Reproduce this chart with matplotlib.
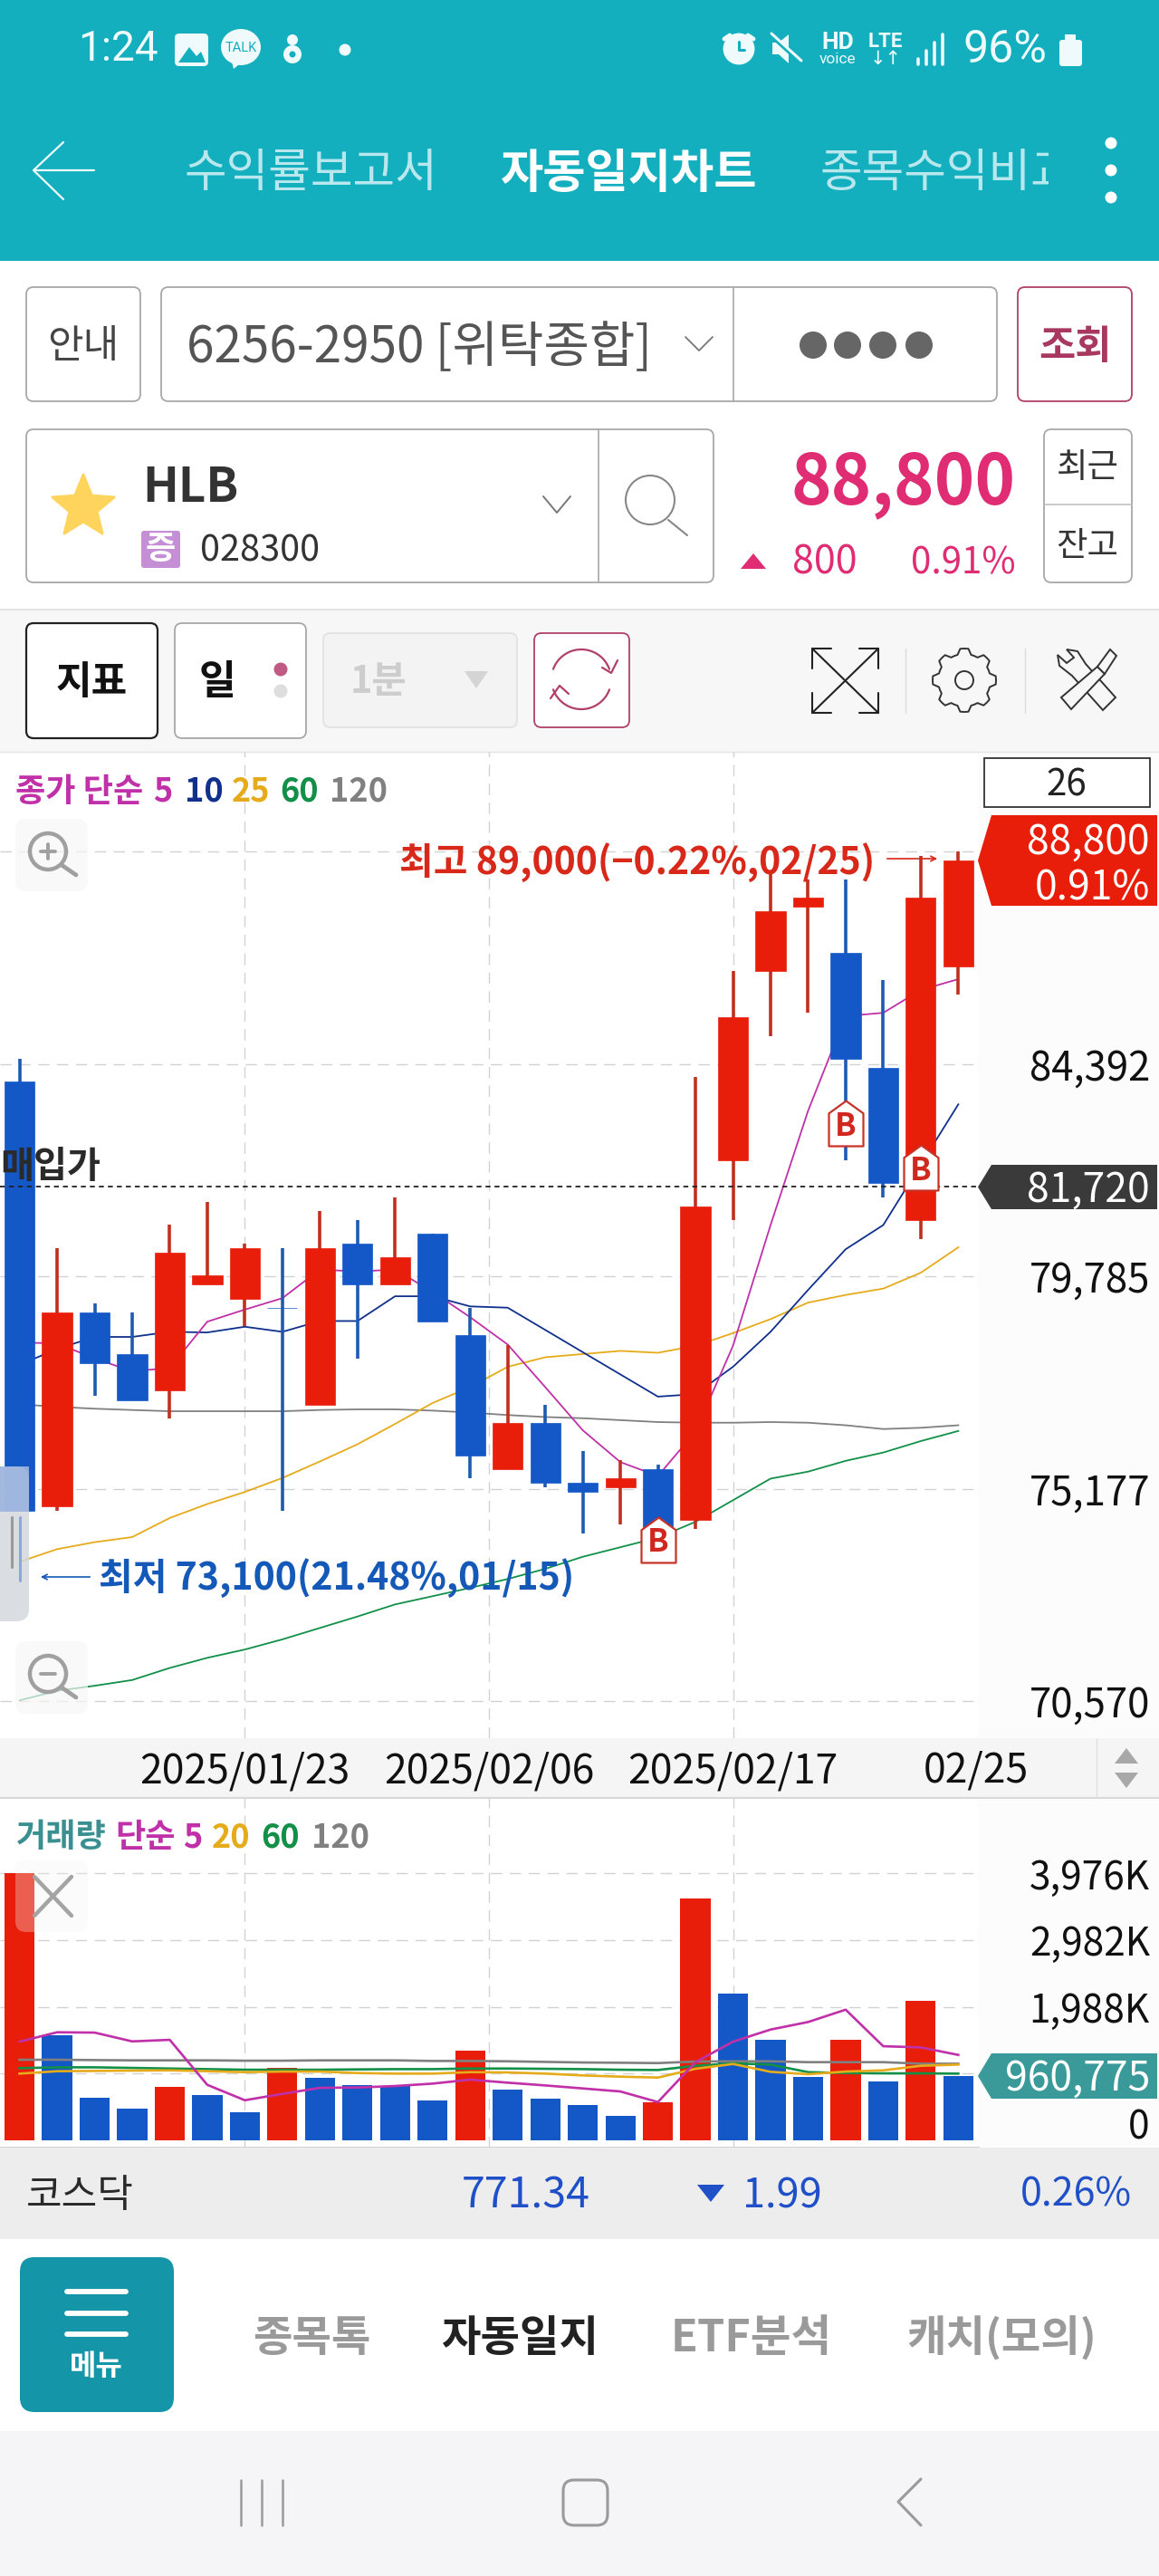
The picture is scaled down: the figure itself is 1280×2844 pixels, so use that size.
import matplotlib
matplotlib.use("Agg")
import numpy as np
from matplotlib import pyplot as plt
from matplotlib.patches import Rectangle, FancyBboxPatch, Polygon, Circle, Ellipse
from matplotlib.path import Path

plt.rcParams['font.family'] = ['Noto Sans CJK KR', 'DejaVu Sans']

W, H = 1280, 2844

# candles, oldest first
opens = [84000, 74800, 79000, 78100, 77300, 79600, 79300, 79100, 77000, 80500, 79600, 80700, 78500,
         75600, 76600, 75300, 75200, 75600, 74500, 82300, 86400, 87800, 86800, 84300, 81000, 86500]
closes = [74700, 79000, 77900, 77100, 80300, 79800, 80400, 79100, 80400, 79600, 80200, 78800, 75900,
          76600, 75300, 75100, 75400, 74300, 81300, 85400, 87700, 88000, 84500, 81800, 88000, 88800]
highs = [84500, 80400, 79200, 79000, 80900, 81400, 80500, 80400, 81200, 81000, 81500, 80700, 79100,
         78300, 77000, 76000, 75800, 75700, 84100, 86400, 88500, 88400, 88400, 86200, 88900, 89000]
lows = [74700, 74700, 77200, 77100, 76700, 79600, 78700, 74700, 77000, 78000, 79600, 78800, 75400,
        75600, 75200, 74200, 74400, 74300, 74300, 81000, 85000, 85500, 82300, 81500, 80600, 85900]

ma5 = [78344, 78330, 78000, 77724, 77793, 78799, 79061, 79309, 79929, 79888, 79929, 79447, 78896,
       78303, 77379, 76442, 75753, 75450, 76414, 78275, 80894, 83375, 85429, 85498, 85994, 86229]
ma10 = [77862, 78206, 78468, 78468, 78579, 78565, 78689, 78579, 78813, 78813, 79350, 79350, 79130,
        79102, 78620, 78137, 77655, 77173, 77228, 77820, 78579, 79488, 80370, 80894, 82204, 83513]
ma25 = [73589, 73864, 74016, 74126, 74540, 74843, 75105, 75408, 75767, 76139, 76580, 77035, 77379,
        77820, 78027, 78096, 78165, 78124, 78275, 78551, 78854, 79213, 79378, 79516, 79860, 80412]
ma60 = [70584, 70791, 70901, 71025, 71287, 71507, 71687, 71907, 72155, 72403, 72665, 72844, 73024,
        73217, 73437, 73699, 73906, 74113, 74457, 74926, 75394, 75546, 75780, 75960, 76208, 76428]
ma120 = [77007, 76952, 76911, 76883, 76856, 76856, 76856, 76856, 76883, 76897, 76897, 76869, 76828,
         76773, 76731, 76704, 76663, 76621, 76607, 76607, 76621, 76607, 76552, 76470, 76497, 76552]

price_ticks = [84392, 79785, 75177, 70570]
price_grid = [89000, 84392, 79785, 75177, 70570]
avg_price = 81720
buy_idx = [17, 22, 24]
buy_price = [74071, 83100, 82135]

# volume in thousands
volume = [3976, 1567, 630, 464, 793, 666, 419, 1072, 923, 820, 811, 594, 1333,
          752, 612, 527, 365, 558, 3607, 2179, 1495, 946, 1490, 869, 2080, 959]
vol_up = [1, 0, 0, 0, 1, 0, 0, 1, 0, 0, 0, 0, 1, 0, 0, 0, 0, 1, 1, 0, 0, 0, 1, 0, 1, 0]
vma5 = [1468, 1608, 1603, 1472, 1495, 824, 594, 689, 779, 784, 806, 842, 901,
        856, 815, 770, 725, 567, 1162, 1468, 1648, 1761, 1945, 1400, 1382, 1270]
vma20 = [991, 1027, 1031, 1036, 1040, 1027, 1013, 1022, 1022, 1000, 991, 991, 1013,
         1009, 991, 964, 946, 932, 1063, 1135, 1018, 982, 1022, 1040, 1108, 1126]
vma60 = [1072, 1085, 1085, 1076, 1067, 1058, 1049, 1049, 1049, 1054, 1058, 1058, 1067,
         1067, 1063, 1058, 1049, 1045, 1108, 1144, 1126, 1013, 1000, 995, 995, 991]
vma120 = [1198, 1198, 1193, 1189, 1189, 1189, 1184, 1184, 1189, 1189, 1189, 1180, 1180,
          1175, 1166, 1157, 1153, 1148, 1171, 1175, 1175, 1162, 1162, 1162, 1139, 1139]

vol_ticks = [1988, 2982, 3976]
vol_grid = [994, 1988, 2982, 3976]
# the date grid is evenly spaced, the middle line falls between two candles
date_idx = [6, 12.5, 19]
date_labels = ['2025/01/23', '2025/02/06', '2025/02/17']

RED, BLUE = '#e81e0a', '#1458c8'
RED_W, BLUE_W = '#c0301e', '#1e5ab0'
MAGENTA, NAVY, YELLOW, GREEN, GRAY = '#c030a8', '#10308c', '#e6ab1a', '#129048', '#808080'
TEAL = '#13afbf'
ROSE = '#b0406a'
GRID = '#d2d2d2'


def px_axes(left, top, right, bottom, z):
    return fig.add_axes([left / W, 1 - bottom / H, (right - left) / W, (bottom - top) / H], zorder=z)


fig = plt.figure(figsize=(W / 100, H / 100), dpi=100, facecolor='white')

bg = px_axes(0, 0, W, H, 0)
bg.set_xlim(0, W)
bg.set_ylim(H, 0)
bg.axis('off')
ui = px_axes(0, 0, W, H, 5)
ui.set_xlim(0, W)
ui.set_ylim(H, 0)
ui.axis('off')
ui.patch.set_alpha(0)


def txt(x, y, s, size, color='#222222', ha='center', weight='normal', **kw):
    return ui.text(x, y + 4, s, fontsize=size, color=color, ha=ha, va='center', fontweight=weight, **kw)


def box(x0, y0, x1, y1, ec='#a8a8a8', fc='white', lw=1.3, r=8, ax=None, **kw):
    p = FancyBboxPatch((x0, y0), x1 - x0, y1 - y0, boxstyle=f'round,pad=0,rounding_size={r}',
                       ec=ec, fc=fc, lw=lw, **kw)
    (ax or bg).add_patch(p)
    return p


def line(xs, ys, color='#888888', lw=1.5, **kw):
    ui.plot(xs, ys, color=color, lw=lw, solid_capstyle='round', **kw)


# flat backgrounds
bg.add_patch(Rectangle((0, 0), W, 288, fc=TEAL, ec='none'))
bg.add_patch(Rectangle((0, 673), W, 157, fc='#f7f7f7', ec='none'))
bg.plot([0, W], [673, 673], color='#dedede', lw=1.2)
bg.plot([0, W], [830, 830], color='#e4e4e4', lw=1)
bg.add_patch(Rectangle((1080, 830), 200, 1090, fc='#fcfcfc', ec='none'))
bg.add_patch(Rectangle((1080, 1985), 200, 386, fc='#fcfcfc', ec='none'))
bg.add_patch(Rectangle((0, 2371), W, 101, fc='#ededed', ec='none'))
bg.add_patch(Rectangle((0, 2684), W, 160, fc='#f5f5f8', ec='none'))

# price panel
ax = px_axes(0, 830, 1082, 1919, 2)
ax.patch.set_alpha(0)
ax.set_xlim(-0.52, 25.57)
ax.set_ylim(69764, 91161)
idx = np.arange(len(opens))
for series, col in [(ma120, GRAY), (ma60, GREEN), (ma25, YELLOW), (ma10, NAVY), (ma5, MAGENTA)]:
    ax.plot(idx, series, color=col, lw=1.3, zorder=3)
for i in idx:
    up = closes[i] > opens[i]
    ax.vlines(i, lows[i], highs[i], color=RED_W if up else BLUE_W, lw=2.6, zorder=4)
    ax.bar(i, closes[i] - opens[i], bottom=opens[i], width=0.8, color=RED if up else BLUE,
           ec=RED if up else BLUE, lw=0.5, zorder=5)
ax.set_yticks(price_grid)
ax.set_yticklabels([''] + [f'{v:,}' for v in price_ticks], ha='right', fontsize=31.5, color='#111111',
                   fontweight='medium')
ax.yaxis.tick_right()
ax.set_xticks(date_idx)
ax.set_xticklabels(date_labels, fontsize=32, color='#111111', fontweight='medium')
ax.tick_params(axis='y', length=0, pad=(1270 - 1082) * 0.72)
ax.tick_params(axis='x', length=0, pad=10)
ax.grid(axis='y', color=GRID, lw=1, linestyle=(0, (9, 6)), zorder=1)
for i in date_idx:
    ax.axvline(i, color=GRID, lw=1, linestyle=(0, (9, 6)), zorder=1)
for s in ax.spines.values():
    s.set_visible(False)
ax.axhline(avg_price, color='#222222', lw=1.3, linestyle=(0, (3, 2.5)), zorder=6)

# house shaped buy markers
house = Path(np.array([(-0.76, -1), (0.76, -1), (0.76, 0.45), (0, 1), (-0.76, 0.45), (-0.76, -1)]), closed=True)
ax.plot(buy_idx, buy_price, linestyle='none', marker=house, markersize=36, mfc='white', mec='#c83228',
        mew=1.6, zorder=7)
for i, p in zip(buy_idx, buy_price):
    ax.text(i, p - 60, 'B', fontsize=25, color='#d0281e', ha='center', va='center', fontweight='bold', zorder=8)

# volume panel
vx = px_axes(0, 1985, 1082, 2371, 2)
vx.patch.set_alpha(0)
vx.set_xlim(-0.52, 25.57)
vx.set_ylim(-112, 5103)
vx.bar(idx, volume, width=0.8, color=[RED if u else BLUE for u in vol_up], zorder=3)
for series, col in [(vma120, GRAY), (vma60, GREEN), (vma20, YELLOW), (vma5, MAGENTA)]:
    vx.plot(idx, series, color=col, lw=1.9, zorder=4)
vx.set_yticks(vol_grid)
vx.set_yticklabels([''] + [f'{v:,}K' for v in vol_ticks], ha='right', fontsize=30.5, color='#111111',
                   fontweight='medium')
vx.yaxis.tick_right()
vx.tick_params(axis='y', length=0, pad=(1270 - 1082) * 0.72)
vx.set_xticks([])
vx.grid(axis='y', color=GRID, lw=1, linestyle=(0, (9, 6)), zorder=1)
for i in date_idx:
    vx.axvline(i, color=GRID, lw=1, linestyle=(0, (9, 6)), zorder=1)
for s in vx.spines.values():
    s.set_visible(False)
vx.axhline(-112, color='#cccccc', lw=2)
txt(1270, 2345, '0', 30.5, '#111111', ha='right', weight='medium')

# date band
bg.add_patch(Rectangle((0, 1919), W, 66, fc='#f5f5f5', ec='none', zorder=1))
bg.plot([0, W], [1985, 1985], color='#d8d8d8', lw=1.5, zorder=2)
bg.plot([1211, 1211], [1920, 1984], color='#e0e0e0', lw=1, zorder=2)
txt(1078, 1950, '02/25', 32, '#111111', weight='medium')
ui.add_patch(Polygon([(1244, 1930), (1231, 1947), (1257, 1947)], fc='#a8a8a8', ec='none'))
ui.add_patch(Polygon([(1244, 1974), (1231, 1957), (1257, 1957)], fc='#a8a8a8', ec='none'))

# chart legends
for x, s, c in [(17, '종가 단순', MAGENTA), (169, '5', MAGENTA), (204, '10', NAVY), (256, '25', YELLOW),
                (309, '60', GREEN), (364, '120', GRAY)]:
    txt(x, 870, s, 26, c, ha='left', weight='bold')
for x, s, c in [(18, '거래량', '#3a9090'), (127, '단순', MAGENTA), (202, '5', MAGENTA), (234, '20', YELLOW),
                (288, '60', GREEN), (344, '120', GRAY)]:
    txt(x, 2025, s, 26, c, ha='left', weight='bold')

# annotations on the chart
txt(441, 948, '최고 89,000(−0.22%,02/25)', 29.5, '#d8281a', ha='left', weight='bold')
ui.annotate('', xy=(1038, 948), xytext=(977, 948), arrowprops=dict(arrowstyle='->', color='#d8281a', lw=1.2))
txt(109, 1738, '최저 73,100(21.48%,01/15)', 29.5, '#1458b8', ha='left', weight='bold')
ui.annotate('', xy=(42, 1741), xytext=(102, 1741), arrowprops=dict(arrowstyle='->', color='#1458b8', lw=1.2))
txt(0, 1284, '매입가', 29, '#2a2a2a', ha='left', weight='bold')

# side tags
for y0, y1, c in [(900, 1000, RED), (1286, 1335, '#3a3a3a'), (2267, 2317, '#3a9a9a')]:
    mid = (y0 + y1) / 2
    ui.add_patch(Polygon([(1080, mid), (1095, y0), (1278, y0), (1278, y1), (1095, y1)], fc=c, ec='none'))
txt(1270, 926, '88,800', 32, 'white', ha='right', weight='medium')
txt(1270, 976, '0.91%', 32, 'white', ha='right', weight='medium')
txt(1270, 1310, '81,720', 32, 'white', ha='right', weight='medium')
txt(1270, 2291, '960,775', 32, 'white', ha='right', weight='medium')
ui.add_patch(Rectangle((1087, 837), 183, 54, fc='white', ec='#333333', lw=1.3))
txt(1178, 863, '26', 29, '#222222', weight='medium')

# zoom buttons and slider
for y0, sign in [(904, '+'), (1812, '-')]:
    box(17, y0, 97, y0 + 80, ec='none', fc='#f7f7f7', r=12, ax=ui, alpha=0.7)
    cy = y0 + 38
    ui.add_patch(Circle((53, cy - 2), 20, fc='none', ec='#a0a0a0', lw=3.2))
    line([68, 84], [cy + 13, cy + 24], '#a0a0a0', 3.4)
    line([45, 61], [cy - 2, cy - 2], '#a0a0a0', 2.8)
    if sign == '+':
        line([53, 53], [cy - 10, cy + 6], '#a0a0a0', 2.8)
box(-20, 1619, 32, 1790, ec='none', fc='#d4d7dd', r=14, ax=ui, alpha=0.85)
ui.add_patch(Rectangle((0, 1619), 32, 50, fc='#9db6e0', ec='none', alpha=0.9))
line([13, 13], [1675, 1730], '#9a9a9a', 2.2)
line([22, 22], [1675, 1745], '#8fa6d8', 2.2)
box(17, 2053, 97, 2133, ec='none', fc='#f3f3f3', r=12, ax=ui, alpha=0.3)
line([38, 79], [2072, 2115], '#a4a4a4', 3.2)
line([79, 38], [2072, 2115], '#a4a4a4', 3.2)

# status bar
STATUS = '#eefafb'
txt(86, 50, '1:24', 33, STATUS, ha='left', family='Roboto')
box(193, 37, 230, 73, ec='none', fc=STATUS, r=5, ax=ui)
ui.add_patch(Polygon([(197, 69), (209, 52), (217, 62), (222, 57), (227, 69)], fc=TEAL, ec='none'))
ui.add_patch(Ellipse((266, 52), 44, 40, fc=STATUS, ec='none'))
ui.add_patch(Polygon([(256, 68), (268, 68), (258, 76)], fc=STATUS, ec='none'))
txt(266, 49, 'TALK', 10.5, TEAL, family='Roboto')
ui.add_patch(Circle((323, 44), 6, fc=STATUS, ec='none'))
ui.add_patch(Circle((323, 60), 10, fc=STATUS, ec='none'))
ui.add_patch(Circle((323, 60), 3.5, fc=TEAL, ec='none'))
ui.add_patch(Circle((381, 55), 6.5, fc=STATUS, ec='none'))
ui.add_patch(Circle((816, 54), 15, fc=STATUS, ec=STATUS, lw=3.5))
line([816, 816, 822], [46, 55, 55], TEAL, 2.2)
line([800, 806], [43, 39], STATUS, 3.5)
line([826, 832], [39, 43], STATUS, 3.5)
ui.add_patch(Polygon([(853, 47), (860, 47), (871, 38), (871, 70), (860, 60), (853, 60)], fc=STATUS, ec='none'))
line([852, 885], [40, 70], TEAL, 2.8)
line([852, 885], [37, 67], STATUS, 2.2)
txt(925, 43, 'HD', 19, STATUS, family='Roboto', weight='bold')
txt(925, 62, 'voice', 12.5, STATUS, family='Roboto')
txt(978, 42, 'LTE', 16, STATUS, family='Roboto', weight='bold')
txt(978, 61, '↓↑', 15, STATUS, family='DejaVu Sans')
for k, top in enumerate([65, 56, 47, 38]):
    line([1014 + k * 9] * 2, [top, 71], STATUS, 2.6)
txt(1063, 51, '96%', 36, STATUS, ha='left', family='Roboto')
box(1170, 44, 1195, 73, ec='none', fc=STATUS, r=3, ax=ui)
ui.add_patch(Rectangle((1176, 38), 12, 7, fc=STATUS, ec='none'))

# title row
line([104, 37, 70], [188, 188, 157], STATUS, 1.6)
line([37, 70], [188, 220], STATUS, 1.6)
NAV = '#b8e8ee'
txt(343, 188, '수익률보고서', 36.5, NAV, weight='medium')
txt(695, 188, '자동일지차트', 37, 'white', weight='bold')
t = txt(905, 188, '종목수익비교', 36.5, NAV, ha='left', weight='medium', clip_on=True)
t.set_clip_path(Rectangle((900, 140), 258, 100, transform=ui.transData))
for y in [158, 188, 218]:
    ui.add_patch(Circle((1227, y), 6.5, fc='white', ec='none'))

# account row
box(29, 317, 155, 443)
txt(92, 379, '안내', 31, '#444444')
box(178, 317, 1101, 443)
bg.plot([810, 810], [317, 443], color='#a8a8a8', lw=1.2)
txt(206, 380, '6256-2950 [위탁종합]', 39.5, '#555555', ha='left')
line([757, 772, 787], [372, 387, 372], '#777777', 1.3)
for x in [898, 936, 975, 1015]:
    ui.add_patch(Circle((x, 381), 15, fc='#666666', ec='none'))
box(1124, 317, 1250, 443, ec=ROSE)
txt(1187, 379, '조회', 31.5, '#a83860', weight='bold')

# stock row
box(29, 474, 788, 643)
bg.plot([661, 661], [474, 643], color='#a8a8a8', lw=1.2)
star = [(92 + (36 if k % 2 == 0 else 16) * np.sin(k * np.pi / 5),
         560 - (36 if k % 2 == 0 else 16) * np.cos(k * np.pi / 5)) for k in range(10)]
ui.add_patch(Polygon(star, fc='#ffd45c', ec='#ffd45c', lw=2, joinstyle='round'))
txt(157, 534, 'HLB', 38, '#333333', ha='left', weight='bold')
box(156, 586, 199, 627, ec='none', fc='#c58fd6', r=3, ax=ui)
txt(177.5, 603, '증', 26, 'white', weight='bold')
txt(221, 604, '028300', 28.5, '#333333', ha='left')
line([600, 615, 630], [548, 566, 548], '#777777', 1.4)
ui.add_patch(Circle((718, 552), 27, fc='none', ec='#888888', lw=1.5))
line([738, 759], [574, 591], '#888888', 1.5)
PINK = '#df2c73'
txt(1122, 530, '88,800', 54.5, PINK, ha='right', weight='bold')
ui.add_patch(Polygon([(832, 611), (818, 628), (846, 628)], fc=PINK, ec='none'))
txt(947, 618, '800', 31, PINK, ha='right')
txt(1122, 618, '0.91%', 29, PINK, ha='right')
box(1153, 474, 1250, 643)
bg.plot([1153, 1250], [557, 557], color='#bcbcbc', lw=1.1)
txt(1201, 513, '최근', 27, '#333333')
txt(1201, 599, '잔고', 27, '#333333')

# toolbar
box(29, 688, 174, 815, ec='#222222', lw=1.6)
txt(101, 749, '지표', 31, '#111111', weight='bold')
box(193, 688, 338, 815)
txt(240, 749, '일', 32, '#111111', weight='bold')
ui.add_patch(Circle((310, 739), 7.5, fc='#c05a85', ec='none'))
ui.add_patch(Circle((310, 763), 7.5, fc='#dedede', ec='none'))
box(357, 699, 571, 803, ec='#e2e2e2', fc='#f3f3f3')
txt(418, 749, '1분', 30, '#cdcdcd', weight='bold')
ui.add_patch(Polygon([(513, 741), (539, 741), (526, 760)], fc='#d4d4d4', ec='none'))
box(590, 699, 695, 803, ec=ROSE, fc='white')
t1 = np.radians(np.linspace(200, 340, 30))
line(642 + 33 * np.cos(t1), 750 + 33 * np.sin(t1), ROSE, 1.6)
t2 = np.radians(np.linspace(20, 160, 30))
line(642 + 33 * np.cos(t2), 750 + 33 * np.sin(t2), ROSE, 1.6)
line([665, 675, 682], [737, 743, 729], ROSE, 1.6)
line([608, 618, 628], [771, 757, 766], ROSE, 1.6)
# expand icon
line([897, 970], [716, 787], '#222222', 1.5)
line([970, 897], [716, 787], '#222222', 1.5)
line([897, 897, 918], [738, 716, 716], '#222222', 1.5)
line([949, 970, 970], [716, 716, 738], '#222222', 1.5)
line([897, 897, 918], [765, 787, 787], '#222222', 1.5)
line([949, 970, 970], [787, 787, 765], '#222222', 1.5)
bg.plot([1000, 1000], [716, 787], color='#dcdcdc', lw=1)
bg.plot([1132, 1132], [716, 787], color='#dcdcdc', lw=1)
# gear icon
ang = np.radians(np.arange(0, 360.1, 7.5))
rad = 29 + 6 * (np.cos(8 * ang) > 0)
line(1065 + rad * np.cos(ang), 751 + rad * np.sin(ang), '#333333', 1.4)
ui.add_patch(Circle((1065, 751), 10, fc='none', ec='#333333', lw=1.4))
# tools icon, wrench under screwdriver
ui.add_patch(Polygon([(1184, 746), (1170, 735), (1168, 723), (1178, 732), (1186, 726), (1178, 717), (1190, 719),
                      (1199, 733), (1232, 770), (1218, 784)], fc='#f7f7f7', ec='#333333', lw=1.4))
ui.add_patch(Polygon([(1172, 770), (1212, 736), (1220, 744), (1183, 783)], fc='#f7f7f7', ec='#333333', lw=1.4))
ui.add_patch(Polygon([(1212, 736), (1226, 717), (1233, 724), (1220, 744)], fc='#f7f7f7', ec='#333333', lw=1.4))

# index row
txt(29, 2421, '코스닥', 31, '#2a2a2a', ha='left', weight='medium')
IDX = '#2050c8'
txt(652, 2420, '771.34', 33.5, IDX, ha='right')
ui.add_patch(Polygon([(770, 2412), (800, 2412), (785, 2431)], fc=IDX, ec='none'))
txt(908, 2420, '1.99', 32.5, IDX, ha='right')
txt(1250, 2420, '0.26%', 31, IDX, ha='right')

# bottom menu
box(22, 2492, 192, 2663, ec='none', fc='#1496a8', r=16, ax=ui)
for y in [2530, 2554, 2577]:
    line([74, 139], [y, y], 'white', 4.2)
txt(106, 2609, '메뉴', 23, 'white', weight='bold')
GREY_TXT = '#9a9a9a'
txt(344, 2578, '종목톡', 34, GREY_TXT, weight='bold')
txt(574, 2578, '자동일지', 34, '#222222', weight='bold')
txt(830, 2578, 'ETF분석', 35, GREY_TXT, weight='bold')
txt(1106, 2578, '캐치(모의)', 34, GREY_TXT, weight='bold')

# android nav
for x in [266, 289, 312]:
    line([x, x], [2738, 2788], '#9a9a9a', 1.8)
box(622, 2738, 671, 2788, ec='#9a9a9a', fc='none', lw=2.2, r=12, ax=ui)
line([1017, 992, 1017], [2737, 2762, 2788], '#9a9a9a', 2.2)

fig.savefig('out.png', dpi=100)
